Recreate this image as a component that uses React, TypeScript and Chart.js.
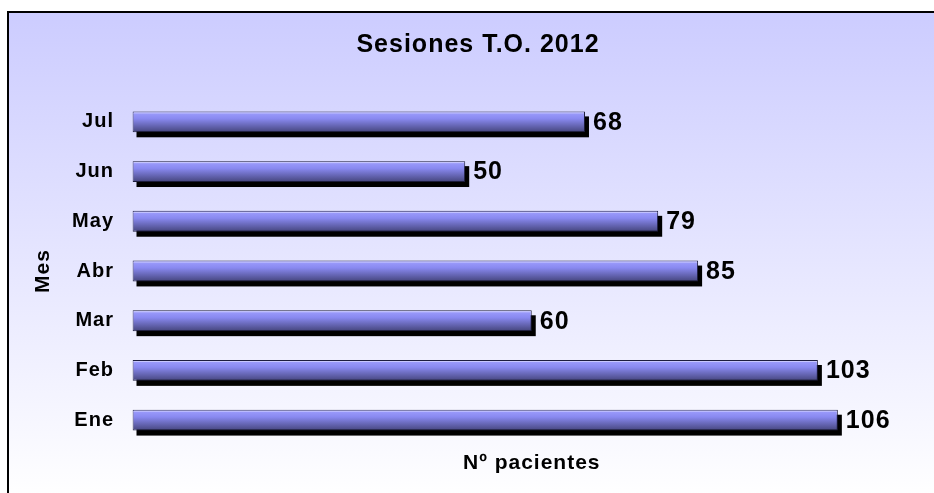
import React, { useEffect, useRef } from "react";
import { Chart, registerables } from "chart.js";

Chart.register(...registerables);

const months = ["Ene", "Feb", "Mar", "Abr", "May", "Jun", "Jul"];
const patients = [106, 103, 60, 85, 79, 50, 68];
const chartTitle = "Sesiones T.O. 2012";
const xTitle = "Nº pacientes";
const yTitle = "Mes";

const FONT = '"Liberation Sans", Arial, sans-serif';
const BAR_PCT = 0.42;

const framePlugin = {
  id: "frame",
  beforeDraw(chart: any) {
    const { ctx, width, height } = chart;
    ctx.save();
    ctx.fillStyle = "#ffffff";
    ctx.fillRect(0, 0, width, height);
    const g = ctx.createLinearGradient(0, 12, 0, 500);
    g.addColorStop(0, "#ccccff");
    g.addColorStop(1, "#ffffff");
    ctx.fillStyle = g;
    ctx.fillRect(8, 12, width + 10, height + 10);
    ctx.lineWidth = 2;
    ctx.strokeStyle = "#000000";
    ctx.strokeRect(8, 12, width + 10, height + 10);
    ctx.restore();
    (ctx as any).letterSpacing = "1px";
  },
};

const shadowPlugin = {
  id: "barShadow",
  beforeDatasetsDraw(chart: any) {
    const { ctx } = chart;
    const meta = chart.getDatasetMeta(0);
    ctx.save();
    ctx.fillStyle = "#000000";
    meta.data.forEach((bar: any) => {
      const { x, y, base, height } = bar.getProps(["x", "y", "base", "height"], true);
      ctx.fillRect(Math.min(base, x) + 4, y - height / 2 + 5, Math.abs(x - base), height);
    });
    ctx.restore();
  },
  afterDatasetsDraw(chart: any) {
    const { ctx } = chart;
    const meta = chart.getDatasetMeta(0);
    const data = chart.data.datasets[0].data;
    ctx.save();
    ctx.fillStyle = "rgba(205,205,255,0.9)";
    meta.data.forEach((bar: any) => {
      const { x, y, base, height } = bar.getProps(["x", "y", "base", "height"], true);
      ctx.fillRect(Math.min(base, x) + 1, y - height / 2 + 1, Math.abs(x - base) - 2, 1);
    });
    ctx.font = `bold 25px ${FONT}`;
    ctx.fillStyle = "#000000";
    ctx.textAlign = "left";
    ctx.textBaseline = "middle";
    meta.data.forEach((bar: any, i: number) => {
      const { x, y } = bar.getProps(["x", "y"], true);
      ctx.fillText(String(data[i]), x + 8, y + 1);
    });
    ctx.restore();
  },
};

export default function App() {
  const ref = useRef<HTMLCanvasElement | null>(null);

  useEffect(() => {
    if (!ref.current) return;
    Chart.defaults.color = "#000000";
    Chart.defaults.font.family = FONT;
    const chart = new Chart(ref.current, {
      type: "bar",
      data: {
        labels: months,
        datasets: [
          {
            data: patients,
            backgroundColor: (c: any) => {
              const ch = c.chart;
              const ca = ch.chartArea;
              if (!ca || !ch.scales.y) return "#8888ee";
              const yc = ch.scales.y.getPixelForValue(c.dataIndex);
              const h = (ca.bottom - ca.top) / months.length * BAR_PCT;
              const g = ch.ctx.createLinearGradient(0, yc - h / 2, 0, yc + h / 2);
              g.addColorStop(0, "#a0a0ff");
              g.addColorStop(0.35, "#8989f0");
              g.addColorStop(1, "#45457c");
              return g;
            },
            borderColor: "#1c1c3c",
            borderWidth: 1,
            borderSkipped: false,
            barPercentage: BAR_PCT,
            categoryPercentage: 1,
          },
        ],
      },
      options: {
        indexAxis: "y",
        responsive: false,
        animation: false,
        layout: { padding: { left: 25, right: 3, top: 0, bottom: 0 } },
        plugins: {
          legend: { display: false },
          tooltip: { enabled: false },
          title: {
            display: true,
            text: chartTitle,
            color: "#000000",
            font: { family: FONT, size: 25, weight: "bold" },
            padding: { top: 30, bottom: 37 },
          },
        },
        scales: {
          x: {
            min: 0,
            max: 120,
            grid: { display: false, drawTicks: false },
            border: { display: false },
            ticks: { display: false },
            title: {
              display: true,
              text: xTitle,
              color: "#000000",
              font: { family: FONT, size: 21, weight: "bold" },
              padding: { top: 5.4, bottom: 17.4 },
            },
          },
          y: {
            reverse: true,
            grid: { display: false, drawTicks: false },
            border: { display: false },
            ticks: {
              color: "#000000",
              font: { family: FONT, size: 20, weight: "bold" },
              padding: 18.5,
            },
            title: {
              display: true,
              text: yTitle,
              color: "#000000",
              font: { family: FONT, size: 21, weight: "bold" },
              padding: { top: 5.7, bottom: 0 },
            },
            afterFit: (scale: any) => {
              scale.width = 107.5;
            },
          },
        },
      },
      plugins: [framePlugin, shadowPlugin],
    } as any);
    return () => chart.destroy();
  }, []);

  return (
    <div style={{ position: "absolute", left: 0, top: 0, width: 934, height: 493 }}>
      <canvas ref={ref} width={934} height={493} style={{ display: "block" }} />
    </div>
  );
}
